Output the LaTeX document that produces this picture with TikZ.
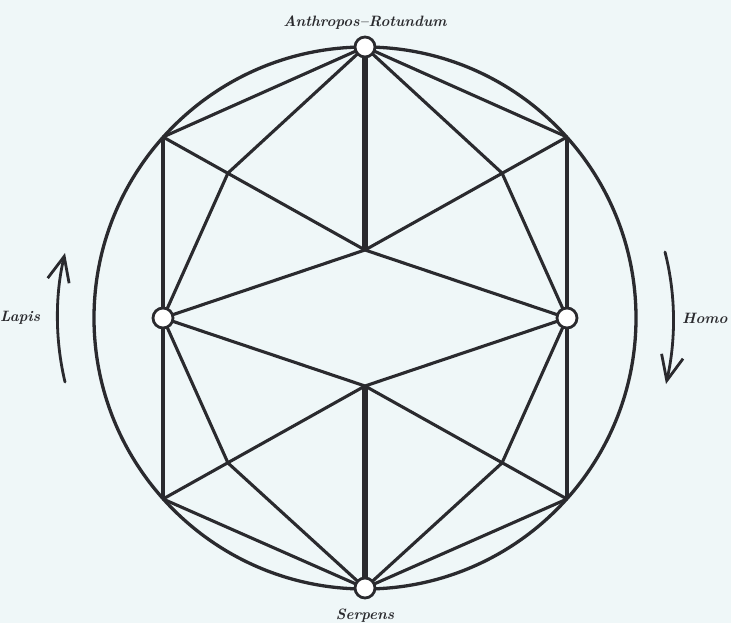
\documentclass[tikz,border=0pt]{standalone}
\usetikzlibrary{arrows.meta,positioning}
\definecolor{paper}{HTML}{EFF7F8}
\definecolor{ink}{HTML}{2A2A2E}

\begin{document}
\begin{tikzpicture}[x=1pt,y=-1pt,color=ink,line width=3.1pt,line join=round,
    pole/.style={circle,draw,fill=white,inner sep=0pt,minimum size=20pt,line width=2.8pt},
    heavy/.style={line width=6pt},
    word/.style={font=\fontsize{15}{18}\selectfont\bfseries\itshape,text=ink},
    turn/.style={-{Straight Barb[length=25pt,width=22pt]},line width=2.8pt,line cap=round}]
    \useasboundingbox[fill=paper] (0,0) rectangle (731,623);
    % points of the figure
    \coordinate (centre) at (365,318);
    \coordinate (t) at (365,47);
    \coordinate (b) at (365,588);
    \coordinate (l) at (163,318);
    \coordinate (r) at (567,318);
    \coordinate (pul) at (163,137);
    \coordinate (pur) at (567,137);
    \coordinate (pll) at (163,499);
    \coordinate (plr) at (567,499);
    \coordinate (iul) at (228,173);
    \coordinate (iur) at (502,173);
    \coordinate (ill) at (228,463);
    \coordinate (ilr) at (502,463);
    \coordinate (cu) at (365,250);
    \coordinate (cd) at (365,386);
    % outer circle
    \draw[line width=3.3pt] (centre) circle[radius=271pt];
    % axis
    \draw[heavy] (t) -- (cu);
    \draw[heavy] (cd) -- (b);
    % upper half
    \draw (t) -- (pul) (t) -- (pur) (t) -- (iul) (t) -- (iur);
    \draw (pul) -- (cu) -- (pur);
    \draw (iul) -- (l) -- (cu) -- (r) -- (iur);
    % sides
    \draw (pul) -- (pll) (pur) -- (plr);
    % lower half
    \draw (b) -- (pll) (b) -- (plr) (b) -- (ill) (b) -- (ilr);
    \draw (pll) -- (cd) -- (plr);
    \draw (ill) -- (l) -- (cd) -- (r) -- (ilr);
    % poles
    \node[pole] (anthropos) at (t) {};
    \node[pole] (serpens) at (b) {};
    \node[pole] (lapis) at (l) {};
    \node[pole] (homo) at (r) {};
    \node[word,above=1pt of anthropos] (anthroposlabel) {Anthropos--Rotundum};
    \node[word,below=5pt of serpens] (serpenslabel) {Serpens};
    % turning arrows
    \coordinate (lapisfrom) at (65,382);
    \coordinate (lapisto) at (65,253);
    \coordinate (homofrom) at (665,252);
    \coordinate (homoto) at (666,384);
    \draw[turn] (lapisfrom) .. controls (55,340) and (55,295) .. (lapisto);
    \draw[turn] (homofrom) .. controls (676,295) and (676,340) .. (homoto);
    \node[word,anchor=east] (lapislabel) at (45,318) {Lapis};
    \node[word,anchor=east,inner xsep=0pt] (homolabel) at (729,318) {Homo};
\end{tikzpicture}
\end{document}
